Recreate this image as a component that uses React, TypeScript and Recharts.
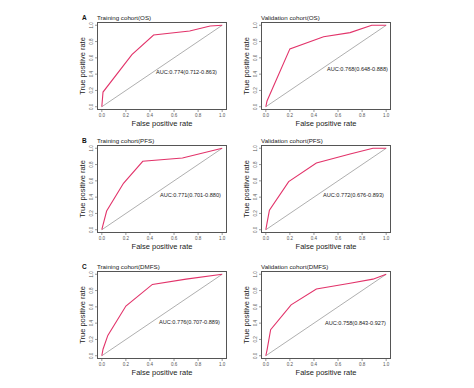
import React from 'react';
import { LineChart, Line, XAxis, YAxis, ReferenceLine } from 'recharts';

// ---- data ----
const TICKS = [0, 0.2, 0.4, 0.6, 0.8, 1.0];

const trainOS_fpr = [0, 0.01, 0.25, 0.43, 0.73, 0.9, 1.0];
const trainOS_tpr = [0, 0.18, 0.64, 0.88, 0.93, 0.99, 1.0];

const validOS_fpr = [0, 0.01, 0.2, 0.48, 0.7, 0.88, 1.0];
const validOS_tpr = [0, 0.07, 0.71, 0.86, 0.91, 1.0, 1.0];

const trainPFS_fpr = [0, 0.01, 0.04, 0.18, 0.34, 0.67, 1.0];
const trainPFS_tpr = [0, 0.06, 0.23, 0.57, 0.84, 0.88, 1.0];

const validPFS_fpr = [0, 0.01, 0.03, 0.19, 0.42, 0.7, 0.89, 1.0];
const validPFS_tpr = [0, 0.08, 0.24, 0.59, 0.82, 0.93, 1.0, 1.0];

const trainDMFS_fpr = [0, 0.01, 0.05, 0.2, 0.42, 0.7, 1.0];
const trainDMFS_tpr = [0, 0.08, 0.25, 0.61, 0.875, 0.94, 1.0];

const validDMFS_fpr = [0, 0.01, 0.04, 0.21, 0.42, 0.7, 0.89, 1.0];
const validDMFS_tpr = [0, 0.07, 0.32, 0.625, 0.82, 0.89, 0.94, 1.0];

const TITLES = [
  'Training cohort(OS)', 'Validation cohort(OS)',
  'Training cohort(PFS)', 'Validation cohort(PFS)',
  'Training cohort(DMFS)', 'Validation cohort(DMFS)',
];
const AUC_LABELS = [
  'AUC:0.774(0.712-0.863)', 'AUC:0.768(0.648-0.888)',
  'AUC:0.771(0.701-0.880)', 'AUC:0.772(0.676-0.893)',
  'AUC:0.776(0.707-0.889)', 'AUC:0.758(0.843-0.927)',
];
const LETTERS = ['A', 'B', 'C'];
const SERIES = [
  [trainOS_fpr, trainOS_tpr], [validOS_fpr, validOS_tpr],
  [trainPFS_fpr, trainPFS_tpr], [validPFS_fpr, validPFS_tpr],
  [trainDMFS_fpr, trainDMFS_tpr], [validDMFS_fpr, validDMFS_tpr],
];

// ---- layout ----
const BOX_X = [97, 261];
const BOX_Y = [22, 145, 271];
const BW = 130;
const BH = 88;
const YW = 14;
const XH = 22;
const PAD = 2;
const DOMAIN: [number, number] = [-0.04, 1.04];
const AUC_POS = [
  [156, 72], [327, 69],
  [160, 195], [323, 195],
  [159, 322], [325, 323],
];
const FONT = '"Liberation Sans", Arial, Helvetica, sans-serif';
const RED = '#e2336a';
const BOX = '#555';
const TICK_FILL = '#555';

// tickSize = 2, tickMargin = 1 for both axes
const XTick = (props: any) => {
  const { x, y, payload } = props;
  return (
    <g>
      <line x1={x} y1={y - 3} x2={x} y2={y - 1} stroke={BOX} strokeWidth={0.6} />
      <text x={x} y={y + 4} textAnchor="middle" fontSize={4.5} fill={TICK_FILL} fontFamily={FONT}>
        {Number(payload.value).toFixed(1)}
      </text>
    </g>
  );
};

const YTick = (props: any) => {
  const { x, y, payload } = props;
  return (
    <g>
      <line x1={x + 1} y1={y} x2={x + 3} y2={y} stroke={BOX} strokeWidth={0.6} />
      <text
        x={x - 0.5}
        y={y}
        transform={`rotate(-90 ${x - 0.5} ${y})`}
        textAnchor="middle"
        fontSize={4.5}
        fill={TICK_FILL}
        fontFamily={FONT}
      >
        {Number(payload.value).toFixed(1)}
      </text>
    </g>
  );
};

function Panel({ idx }: { idx: number }) {
  const col = idx % 2;
  const row = Math.floor(idx / 2);
  const bx = BOX_X[col];
  const by = BOX_Y[row];
  const [fpr, tpr] = SERIES[idx];
  const data = fpr.map((v, i) => ({ x: v, y: tpr[i] }));
  return (
    <>
      <div style={{ position: 'absolute', left: bx - YW, top: by - PAD }}>
        <LineChart
          width={BW + YW + PAD}
          height={BH + XH + PAD}
          data={data}
          margin={{ top: PAD, right: PAD, bottom: 0, left: 0 }}
        >
          <XAxis
            type="number"
            dataKey="x"
            domain={DOMAIN}
            ticks={TICKS}
            interval={0}
            axisLine={false}
            tickLine={false}
            tickSize={2}
            tickMargin={1}
            height={XH}
            tick={<XTick />}
            allowDataOverflow
          />
          <YAxis
            type="number"
            dataKey="y"
            domain={DOMAIN}
            ticks={TICKS}
            interval={0}
            axisLine={false}
            tickLine={false}
            tickSize={2}
            tickMargin={1}
            width={YW}
            tick={<YTick />}
            allowDataOverflow
          />
          <ReferenceLine
            segment={[{ x: 0, y: 0 }, { x: 1, y: 1 }]}
            stroke="#9a9a9a"
            strokeWidth={0.8}
            ifOverflow="visible"
          />
          <Line
            type="linear"
            dataKey="y"
            stroke={RED}
            strokeWidth={1.1}
            dot={false}
            isAnimationActive={false}
          />
        </LineChart>
      </div>
      {/* plot frame */}
      <div
        style={{
          position: 'absolute', left: bx, top: by, width: BW, height: BH,
          border: `0.8px solid ${BOX}`, boxSizing: 'border-box', pointerEvents: 'none',
        }}
      />
      <div
        style={{
          position: 'absolute', left: bx, top: by - 8, fontSize: 6.2, lineHeight: '7px',
          whiteSpace: 'nowrap', color: '#222',
        }}
      >
        {TITLES[idx]}
      </div>
      <div
        style={{
          position: 'absolute', left: AUC_POS[idx][0], top: AUC_POS[idx][1] - 4, fontSize: 5.6,
          lineHeight: '8px', whiteSpace: 'nowrap', color: '#222',
        }}
      >
        {AUC_LABELS[idx]}
      </div>
      <div
        style={{
          position: 'absolute', left: bx - 14, top: by + BH / 2, fontSize: 7.5, lineHeight: '8px',
          whiteSpace: 'nowrap', color: '#222', transform: 'translate(-50%, -50%) rotate(-90deg)',
        }}
      >
        True positive rate
      </div>
      <div
        style={{
          position: 'absolute', left: bx + BW / 2, top: by + BH + 14, fontSize: 7.5, lineHeight: '8px',
          whiteSpace: 'nowrap', color: '#222', transform: 'translate(-50%, -50%)',
        }}
      >
        False positive rate
      </div>
      {col === 0 && (
        <div
          style={{
            position: 'absolute', left: 82, top: by - 8, fontSize: 6.5, lineHeight: '7px',
            fontWeight: 'bold', color: '#111',
          }}
        >
          {LETTERS[row]}
        </div>
      )}
    </>
  );
}

export default function App() {
  return (
    <div
      style={{
        position: 'absolute', left: 0, top: 0, width: 474, height: 388, background: '#fff',
        fontFamily: FONT, overflow: 'hidden',
      }}
    >
      {[0, 1, 2, 3, 4, 5].map((i) => (
        <Panel key={i} idx={i} />
      ))}
    </div>
  );
}
